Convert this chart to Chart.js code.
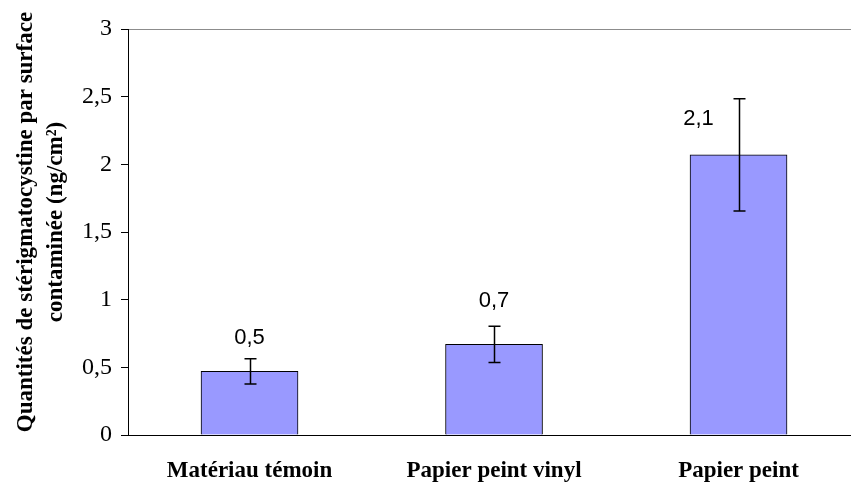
<!DOCTYPE html>
<html>
<head>
<meta charset="utf-8">
<script src="https://cdn.jsdelivr.net/npm/chart.js@4/dist/chart.umd.min.js"></script>
<style>
html,body{margin:0;padding:0;background:#fff;overflow:hidden;}
#wrap{width:851px;height:483px;position:relative;}
</style>
</head>
<body>
<div id="wrap"><canvas id="c" width="851" height="483"></canvas></div>
<script>
const categories = ['Matériau témoin', 'Papier peint vinyl', 'Papier peint'];
const means = [0.47, 0.67, 2.07];
const errors = [0.094, 0.134, 0.415];
const yTicks = [0, 0.5, 1, 1.5, 2, 2.5, 3];
const yTitleLines = ['Quantités de stérigmatocystine par surface', 'contaminée (ng/cm²)'];

const serif = "'Liberation Serif', 'Times New Roman', serif";
const sans = "'Liberation Sans', Arial, sans-serif";

const fmt = v => (Math.round(v * 10) / 10).toString().replace('.', ',');

const errorBars = {
  id: 'errorBars',
  afterDatasetsDraw(chart) {
    const {ctx, scales: {y}} = chart;
    const meta = chart.getDatasetMeta(0);
    ctx.save();
    ctx.strokeStyle = '#000';
    ctx.lineWidth = 1.5;
    meta.data.forEach((bar, i) => {
      const x = Math.round(bar.x) + 0.5;
      const yh = y.getPixelForValue(means[i] + errors[i]);
      const yl = y.getPixelForValue(means[i] - errors[i]);
      ctx.beginPath();
      ctx.moveTo(x, yh); ctx.lineTo(x, yl);
      ctx.moveTo(x - 6, yh); ctx.lineTo(x + 6, yh);
      ctx.moveTo(x - 6, yl); ctx.lineTo(x + 6, yl);
      ctx.stroke();
    });
    ctx.restore();
  }
};

const valueLabels = {
  id: 'valueLabels',
  afterDatasetsDraw(chart, args, opts) {
    const {ctx} = chart;
    const meta = chart.getDatasetMeta(0);
    ctx.save();
    ctx.fillStyle = '#000';
    ctx.font = "22px " + sans;
    ctx.textAlign = 'center';
    ctx.textBaseline = 'alphabetic';
    meta.data.forEach((bar, i) => {
      ctx.fillText(fmt(means[i]), bar.x + opts.dx[i], bar.y - opts.dy[i]);
    });
    ctx.restore();
  }
};

const yTitle = {
  id: 'yTitle',
  afterDraw(chart, args, opts) {
    const {ctx} = chart;
    ctx.save();
    ctx.fillStyle = '#000';
    ctx.font = "bold 23px " + serif;
    ctx.textAlign = 'center';
    ctx.textBaseline = 'middle';
    yTitleLines.forEach((t, i) => {
      ctx.save();
      ctx.translate(opts.x + i * opts.lineGap, opts.y);
      ctx.rotate(-Math.PI / 2);
      ctx.fillText(t, 0, 0);
      ctx.restore();
    });
    ctx.restore();
  }
};

new Chart(document.getElementById('c'), {
  type: 'bar',
  data: {
    datasets: [{
      data: means.map((v, i) => ({x: i, y: v})),
      backgroundColor: '#9999FF',
      borderColor: '#000',
      borderWidth: 1,
      barThickness: 97
    }]
  },
  options: {
    responsive: false,
    animation: false,
    layout: {padding: {top: 29, left: 0, right: 0, bottom: 0}},
    plugins: {
      legend: {display: false},
      tooltip: {enabled: false},
      valueLabels: {dx: [0, 0, -40], dy: [27, 37, 30]},
      yTitle: {x: 26, y: 222, lineGap: 30}
    },
    scales: {
      x: {
        type: 'linear',
        offset: false,
        bounds: 'ticks',
        min: -0.497,
        max: 2.46,
        afterBuildTicks: s => { s.ticks = categories.map((c, i) => ({value: i})); },
        afterFit: s => { s.height = 48; },
        grid: {display: false, drawTicks: false},
        border: {display: true, color: '#000', width: 1},
        ticks: {
          callback: v => categories[v],
          color: '#000',
          font: {family: serif, size: 23, weight: 'bold'},
          padding: 22,
          maxRotation: 0,
          autoSkip: false
        }
      },
      y: {
        min: 0,
        max: 3,
        afterBuildTicks: s => { s.ticks = yTicks.map(v => ({value: v})); },
        afterFit: s => { s.width = 128; },
        grid: {
          drawOnChartArea: true,
          color: c => (c.tick && c.tick.value === 3) ? '#8c8c8c' : 'rgba(0,0,0,0)',
          tickColor: '#000',
          tickLength: 7
        },
        border: {display: true, color: '#000', width: 1},
        ticks: {
          callback: v => v.toString().replace('.', ','),
          color: '#000',
          font: {family: serif, size: 24},
          padding: 9
        }
      }
    }
  },
  plugins: [errorBars, valueLabels, yTitle]
});
</script>
</body>
</html>
